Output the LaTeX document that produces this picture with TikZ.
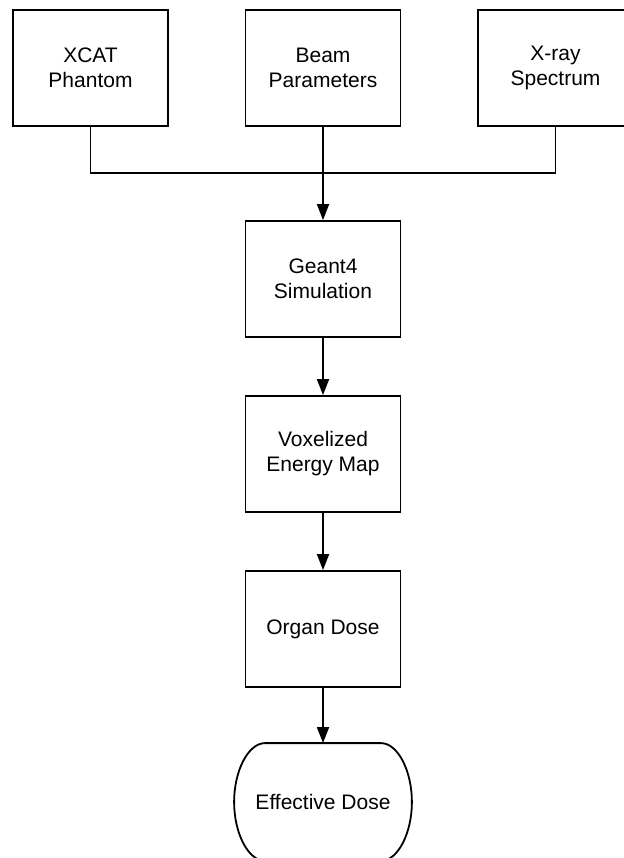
\documentclass[tikz,border=0pt]{standalone}
\usepackage{fontspec}
\setmainfont{Liberation Sans}
\usetikzlibrary{arrows.meta}

\begin{document}
\begin{tikzpicture}[x=1pt, y=-1pt, font=\fontsize{21}{25}\selectfont,
  box/.style={draw, line width=1.8pt, minimum width=155pt, minimum height=116pt,
    align=center, inner sep=0pt},
  link/.style={line width=1.8pt},
  flow/.style={link, -{Triangle[length=16pt, width=12pt]}}]
  \useasboundingbox (0,0) rectangle (623,858);
  \foreach \name/\xc/\txt in {xcat/90.5/{XCAT\\Phantom}, beam/323/{Beam\\Parameters},
      spectrum/555.5/{X-ray\\Spectrum}}
    \node[box] (\name) at (\xc,68) {\txt};
  \node[box] (geant) at (323,279) {Geant4\\Simulation};
  \node[box] (voxel) at (323,454) {Voxelized\\Energy Map};
  \node[box] (organ) at (323,629) {Organ Dose};
  \node[box, draw=none, minimum width=176pt] (effdose) at (323,802) {Effective Dose};
  \draw[link] ([xshift=31pt]effdose.north west) -- ([xshift=-31pt]effdose.north east)
    .. controls ([xshift=-14pt]effdose.north east) and ([yshift=31pt]effdose.east) .. (effdose.east)
    .. controls ([yshift=-31pt]effdose.east) and ([xshift=-14pt]effdose.south east) .. ([xshift=-31pt]effdose.south east)
    -- ([xshift=31pt]effdose.south west)
    .. controls ([xshift=14pt]effdose.south west) and ([yshift=-31pt]effdose.west) .. (effdose.west)
    .. controls ([yshift=31pt]effdose.west) and ([xshift=14pt]effdose.north west) .. cycle;
  \coordinate (joint) at (323,173);
  \draw[link] (xcat.south) |- (joint) -| (spectrum.south);
  \draw[flow] (beam.south) -- (geant.north);
  \foreach \a/\b in {geant/voxel, voxel/organ, organ/effdose}
    \draw[flow] (\a.south) -- (\b.north);
\end{tikzpicture}
\end{document}
